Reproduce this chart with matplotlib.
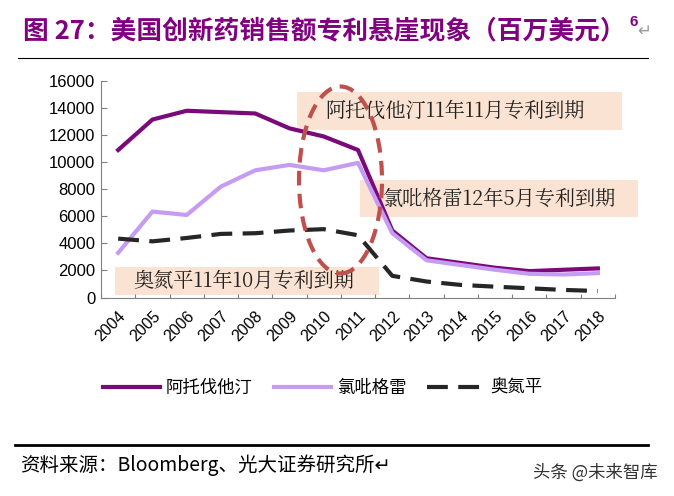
import matplotlib
matplotlib.use("Agg")
import matplotlib.pyplot as plt
from matplotlib.patches import Ellipse, Rectangle

plt.rcParams['font.family'] = ['Noto Sans CJK SC', 'DejaVu Sans']

years = ['2004', '2005', '2006', '2007', '2008', '2009', '2010', '2011',
         '2012', '2013', '2014', '2015', '2016', '2017', '2018']
atorvastatin = [10900, 13150, 13800, 13700, 13600, 12500, 11900, 10900,
                4950, 2900, 2550, 2200, 1950, 2050, 2150]
clopidogrel = [3300, 6350, 6100, 8200, 9400, 9800, 9400, 9950,
               4750, 2750, 2400, 2050, 1750, 1700, 1800]
olanzapine = [4350, 4150, 4400, 4700, 4750, 4950, 5050, 4600,
              1600, 1180, 930, 800, 680, 560, 480]
names = ['阿托伐他汀', '氯吡格雷', '奥氮平']
notes = ['阿托伐他汀11年11月专利到期', '氯吡格雷12年5月专利到期', '奥氮平11年10月专利到期']

W, H = 674, 496
fig = plt.figure(figsize=(6.74, 4.96), dpi=100)
ax = fig.add_axes([0.1499, 0.4002, 0.7626, 0.4365])

x = list(range(len(years)))
ax.plot(x, atorvastatin, color='#7a0a7a', lw=3.0, label=names[0], zorder=3)
ax.plot(x, clopidogrel, color='#c69cf2', lw=3.0, label=names[1], zorder=3)
ax.plot(x, olanzapine, color='#262626', lw=3.0, dashes=(5, 2.5), label=names[2], zorder=3)

ax.set_xlim(-0.5, len(years) - 0.5)
ax.set_ylim(0, 16000)
ax.set_yticks(range(0, 16001, 2000))
ax.set_xticks([i + 0.5 for i in range(-1, len(years))])
ax.set_xticklabels([])
ax.set_xticks(x, minor=True)
ax.set_xticklabels(years, minor=True, rotation=45, ha='right', va='top',
                   rotation_mode='anchor', family='Liberation Sans', fontsize=11.5)
ax.tick_params(axis='x', which='minor', length=0, pad=8)
ax.tick_params(axis='x', which='major', direction='in', length=3, color='#808080')
ax.tick_params(axis='y', direction='in', length=4, color='#808080', pad=4)
for lab in ax.get_yticklabels():
    lab.set_family('Liberation Sans')
    lab.set_fontsize(12)
for s in ['top', 'right']:
    ax.spines[s].set_visible(False)
for s in ['left', 'bottom']:
    ax.spines[s].set_color('#808080')


def pbox(x0, y0, x1, y1, text, tx):
    # boxes placed in figure pixels, lines drawn on top of them
    ax.add_patch(Rectangle((x0 / W, 1 - y1 / H), (x1 - x0) / W, (y1 - y0) / H,
                           transform=fig.transFigure, facecolor='#fbe3d3',
                           edgecolor='none', zorder=1, clip_on=False))
    ax.text(tx / W, 1 - (y0 + y1) / 2 / H, text, transform=fig.transFigure,
            fontsize=14.5, va='center', ha='left', color='#222222', zorder=2,
            family=['Noto Serif CJK SC', 'Noto Sans CJK SC'], clip_on=False)


pbox(297, 92, 622, 130, notes[0], 325)
pbox(360, 180, 638, 217, notes[1], 382)
pbox(115, 267, 379, 295, notes[2], 133)

ax.add_patch(Ellipse((340.5 / W, 1 - 180 / H), 83 / W, 187 / H, transform=fig.transFigure,
                     fill=False, edgecolor='#c0504d', lw=3, linestyle=(0, (3.5, 2)),
                     zorder=5, clip_on=False))

ax.legend(loc='center left', bbox_to_anchor=(-14 / 514, (1 - 388 / H - 0.4002) / 0.4365),
          ncol=3, frameon=False, fontsize=12.5, handlelength=3.3, columnspacing=1.2,
          handletextpad=0.35)

fig.text(23 / W, 1 - 31 / H, '图 27：美国创新药销售额专利悬崖现象（百万美元）',
         color='#800080', fontsize=18.5, fontweight='bold', va='center', ha='left')
fig.text(630 / W, 1 - 22 / H, '6', color='#800080', fontsize=11, fontweight='bold',
         va='center', ha='left', family='Liberation Sans')
fig.text(637 / W, 1 - 31 / H, '↵', color='#999999', fontsize=12, va='center', ha='left',
         family='DejaVu Sans')

fig.add_artist(plt.Line2D([18 / W, 648 / W], [1 - 58 / H] * 2, color='black', lw=0.8))
fig.add_artist(plt.Line2D([15 / W, 648 / W], [1 - 445 / H] * 2, color='black', lw=2))

fig.text(20 / W, 1 - 465 / H, '资料来源：Bloomberg、光大证券研究所↵', fontsize=14,
         va='center', ha='left', color='black', family=['Noto Sans CJK SC', 'DejaVu Sans'])
fig.text(658 / W, 1 - 473 / H, '头条 @未来智库', fontsize=12.5, va='center', ha='right',
         color='#333333')

fig.savefig('out.png', dpi=100)
